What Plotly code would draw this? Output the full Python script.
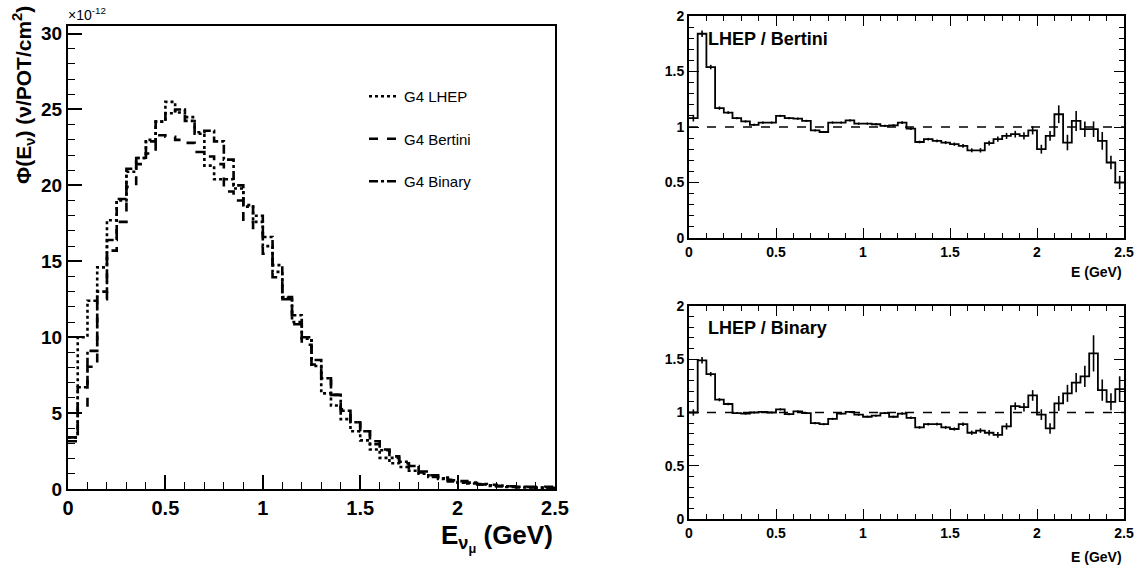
import plotly.graph_objects as go

# ---------------- data ----------------
bin_edges = [0.00, 0.05, 0.10, 0.15, 0.20, 0.25, 0.30, 0.35, 0.40, 0.45,
             0.50, 0.55, 0.60, 0.65, 0.70, 0.75, 0.80, 0.85, 0.90, 0.95,
             1.00, 1.05, 1.10, 1.15, 1.20, 1.25, 1.30, 1.35, 1.40, 1.45,
             1.50, 1.55, 1.60, 1.65, 1.70, 1.75, 1.80, 1.85, 1.90, 1.95,
             2.00, 2.05, 2.10, 2.15, 2.20, 2.25, 2.30, 2.35, 2.40, 2.45, 2.50]

# flux, units of 1e-12 nu/POT/cm^2
flux_lhep = [3.4, 10.0, 12.4, 14.6, 17.7, 19.0, 20.9, 21.8, 23.0, 24.2,
             25.5, 24.8, 24.5, 23.4, 21.3, 20.4, 20.4, 19.8, 18.7, 17.6,
             16.0, 14.3, 12.6, 11.0, 9.9, 8.1, 6.3, 5.5, 4.6, 3.8,
             3.2, 2.6, 2.05, 1.7, 1.45, 1.2, 1.0, 0.85, 0.7, 0.58,
             0.42, 0.36, 0.33, 0.24, 0.22, 0.18, 0.15, 0.12, 0.09, 0.07]

flux_bertini = [3.15, 5.4, 8.05, 12.5, 15.7, 17.6, 19.9, 21.4, 22.1, 23.3,
                23.2, 23.0, 22.8, 22.2, 21.9, 21.4, 19.6, 19.0, 17.6, 17.1,
                15.5, 13.95, 12.5, 10.85, 9.5, 8.2, 7.3, 6.2, 5.25, 4.4,
                3.8, 3.15, 2.6, 2.15, 1.7, 1.35, 1.09, 0.91, 0.76, 0.60,
                0.52, 0.39, 0.30, 0.28, 0.21, 0.18, 0.15, 0.14, 0.13, 0.14]

flux_binary = [3.4, 6.7, 9.1, 13.0, 16.4, 19.1, 21.1, 21.8, 22.9, 24.2,
               24.75, 25.0, 24.25, 23.5, 23.6, 22.9, 21.7, 20.0, 18.6, 18.0,
               16.6, 14.75, 12.65, 11.45, 10.0, 8.5, 7.3, 6.2, 5.15, 4.4,
               3.8, 2.95, 2.55, 2.05, 1.8, 1.52, 1.15, 0.80, 0.67, 0.50,
               0.43, 0.42, 0.30, 0.20, 0.17, 0.13, 0.10, 0.10, 0.08, 0.06]

ratio_bertini = [1.08, 1.84, 1.54, 1.17, 1.13, 1.08, 1.05, 1.02, 1.04, 1.04,
                 1.10, 1.08, 1.075, 1.055, 0.97, 0.955, 1.04, 1.04, 1.06, 1.03,
                 1.03, 1.025, 1.01, 1.015, 1.04, 0.985, 0.865, 0.89, 0.875, 0.86,
                 0.845, 0.83, 0.79, 0.79, 0.855, 0.89, 0.92, 0.935, 0.92, 0.97,
                 0.80, 0.92, 1.115, 0.86, 1.055, 0.98, 0.98, 0.875, 0.68, 0.50]

ratio_bertini_err = [0.03, 0.03, 0.02, 0.015, 0.012, 0.01, 0.01, 0.01, 0.01, 0.01,
                     0.01, 0.01, 0.01, 0.01, 0.01, 0.01, 0.01, 0.01, 0.01, 0.01,
                     0.01, 0.01, 0.01, 0.01, 0.012, 0.012, 0.012, 0.012, 0.013, 0.014,
                     0.015, 0.016, 0.018, 0.02, 0.022, 0.024, 0.027, 0.03, 0.033, 0.037,
                     0.04, 0.045, 0.08, 0.07, 0.09, 0.07, 0.07, 0.08, 0.06, 0.06]

ratio_binary = [1.0, 1.49, 1.36, 1.12, 1.08, 0.995, 0.99, 1.0, 1.005, 1.0,
                1.03, 0.985, 1.01, 0.995, 0.90, 0.89, 0.94, 0.99, 1.005, 0.98,
                0.96, 0.97, 0.995, 0.96, 0.99, 0.95, 0.86, 0.89, 0.89, 0.86,
                0.845, 0.89, 0.81, 0.83, 0.81, 0.79, 0.87, 1.06, 1.05, 1.16,
                0.98, 0.85, 1.085, 1.18, 1.28, 1.34, 1.555, 1.21, 1.10, 1.22]

ratio_binary_err = [0.03, 0.03, 0.02, 0.015, 0.012, 0.01, 0.01, 0.01, 0.01, 0.01,
                    0.01, 0.01, 0.01, 0.01, 0.01, 0.01, 0.01, 0.01, 0.01, 0.01,
                    0.01, 0.01, 0.01, 0.01, 0.012, 0.012, 0.012, 0.012, 0.013, 0.014,
                    0.015, 0.017, 0.02, 0.022, 0.025, 0.027, 0.03, 0.035, 0.04, 0.05,
                    0.05, 0.05, 0.07, 0.08, 0.09, 0.10, 0.17, 0.10, 0.08, 0.12]

series_names = ["G4 LHEP", "G4 Bertini", "G4 Binary"]
series_dash = ["dot", "dash", "dashdot"]

# ---------------- figure ----------------
W, H = 1139, 569
FONT = "Liberation Sans, Arial, Helvetica, sans-serif"


def px_x(p):
    return p / W


def px_y(p):
    return 1 - p / H


def step_xy(vals):
    return bin_edges, list(vals) + [vals[-1]]


centers = [(bin_edges[i] + bin_edges[i + 1]) / 2 for i in range(len(bin_edges) - 1)]

fig = go.Figure()

for i, (vals, name, dash) in enumerate(zip([flux_lhep, flux_bertini, flux_binary],
                                           series_names, series_dash)):
    sx, sy = step_xy(vals)
    fig.add_trace(go.Scatter(x=sx, y=sy, mode="lines", line_shape="hv",
                             line=dict(color="black", width=2.6, dash=dash),
                             name=name, legendgroup=name, showlegend=True,
                             xaxis="x", yaxis="y"))

for axn, vals, errs in [("2", ratio_bertini, ratio_bertini_err),
                        ("3", ratio_binary, ratio_binary_err)]:
    fig.add_trace(go.Scatter(x=[0, 2.5], y=[1, 1], mode="lines",
                             line=dict(color="black", width=1.6, dash="dash"),
                             showlegend=False, xaxis="x" + axn, yaxis="y" + axn))
    sx, sy = step_xy(vals)
    fig.add_trace(go.Scatter(x=sx, y=sy, mode="lines", line_shape="hv",
                             line=dict(color="black", width=1.8),
                             showlegend=False, xaxis="x" + axn, yaxis="y" + axn))
    fig.add_trace(go.Scatter(x=centers, y=vals, mode="markers",
                             marker=dict(size=1, color="black"),
                             error_y=dict(type="data", array=errs, width=0,
                                          thickness=1.6, color="black"),
                             showlegend=False, xaxis="x" + axn, yaxis="y" + axn))

axis_common = dict(showgrid=False, zeroline=False, showline=True, linecolor="black",
                   ticks="inside", tickcolor="black", color="black", automargin=False)

main_dom_x = [px_x(68), px_x(555)]
main_dom_y = [px_y(489), px_y(26)]
r_dom_x = [px_x(689), px_x(1124)]
r1_dom_y = [px_y(238), px_y(16)]
r2_dom_y = [px_y(519), px_y(306)]

fig.update_layout(
    width=W, height=H,
    margin=dict(l=0, r=0, t=0, b=0, autoexpand=False),
    paper_bgcolor="white", plot_bgcolor="white",
    font=dict(family=FONT, color="black"),
    xaxis=dict(axis_common, domain=main_dom_x, range=[0, 2.5], dtick=0.5,
               ticklen=14, tickwidth=1.5, linewidth=2, mirror=True,
               minor=dict(dtick=0.1, ticklen=7, ticks="inside", tickcolor="black", tickwidth=1.2),
               tickfont=dict(size=20, family=FONT, weight="bold"), anchor="y"),
    yaxis=dict(axis_common, domain=main_dom_y, range=[0, 30.5], dtick=5,
               ticklen=14, tickwidth=1.5, linewidth=2, mirror=True,
               minor=dict(dtick=1, ticklen=7, ticks="inside", tickcolor="black", tickwidth=1.2),
               tickfont=dict(size=19, family=FONT, weight="bold"), anchor="x"),
    xaxis2=dict(axis_common, domain=r_dom_x, range=[0, 2.5], dtick=0.5,
                ticklen=10, tickwidth=1.3, linewidth=1.8, mirror="allticks",
                minor=dict(dtick=0.1, ticklen=5, ticks="inside", tickcolor="black", tickwidth=1),
                tickfont=dict(size=14, family=FONT, weight="bold"), anchor="y2"),
    yaxis2=dict(axis_common, domain=r1_dom_y, range=[0, 2], dtick=0.5,
                ticklen=10, tickwidth=1.3, linewidth=1.8, mirror="allticks",
                minor=dict(dtick=0.1, ticklen=5, ticks="inside", tickcolor="black", tickwidth=1),
                tickfont=dict(size=14, family=FONT, weight="bold"), anchor="x2"),
    xaxis3=dict(axis_common, domain=r_dom_x, range=[0, 2.5], dtick=0.5,
                ticklen=10, tickwidth=1.3, linewidth=1.8, mirror="allticks",
                minor=dict(dtick=0.1, ticklen=5, ticks="inside", tickcolor="black", tickwidth=1),
                tickfont=dict(size=14, family=FONT, weight="bold"), anchor="y3"),
    yaxis3=dict(axis_common, domain=r2_dom_y, range=[0, 2], dtick=0.5,
                ticklen=10, tickwidth=1.3, linewidth=1.8, mirror="allticks",
                minor=dict(dtick=0.1, ticklen=5, ticks="inside", tickcolor="black", tickwidth=1),
                tickfont=dict(size=14, family=FONT, weight="bold"), anchor="x3"),
    legend=dict(x=px_x(364), y=px_y(80), xanchor="left", yanchor="top",
                xref="paper", yref="paper",
                bgcolor="rgba(0,0,0,0)", borderwidth=0,
                font=dict(size=15, family=FONT, color="black"),
                tracegroupgap=20, itemwidth=30),
    showlegend=True,
)

ann_common = dict(xref="paper", yref="paper", showarrow=False)
annotations = [
    dict(ann_common, text="Φ(E<sub>ν</sub>) (ν/POT/cm<sup>2</sup>)", x=px_x(24), y=px_y(4),
         xanchor="center", yanchor="top", textangle=-90,
         font=dict(size=21, family=FONT, weight="bold")),
    dict(ann_common, text="E<sub>ν<sub>μ</sub></sub> (GeV)", x=px_x(555), y=px_y(538),
         xanchor="right", yanchor="middle",
         font=dict(size=26, family=FONT, weight="bold")),
    dict(ann_common, text="×10<sup>-12</sup>", x=px_x(66), y=px_y(14),
         xanchor="left", yanchor="middle",
         font=dict(size=14, family=FONT)),
    dict(ann_common, text="LHEP / Bertini", x=px_x(706), y=px_y(39),
         xanchor="left", yanchor="middle",
         font=dict(size=18, family=FONT, weight="bold")),
    dict(ann_common, text="LHEP / Binary", x=px_x(706), y=px_y(328),
         xanchor="left", yanchor="middle",
         font=dict(size=18, family=FONT, weight="bold")),
    dict(ann_common, text="E (GeV)", x=px_x(1124), y=px_y(272),
         xanchor="right", yanchor="middle",
         font=dict(size=14, family=FONT, weight="bold")),
    dict(ann_common, text="E (GeV)", x=px_x(1124), y=px_y(557),
         xanchor="right", yanchor="middle",
         font=dict(size=14, family=FONT, weight="bold")),
]
fig.update_layout(annotations=annotations)

fig.write_html("out.html",
               config={"displayModeBar": False},
               post_script="document.body.style.margin='0px';"
                           "document.body.style.padding='0px';"
                           "document.body.style.overflow='hidden';")
